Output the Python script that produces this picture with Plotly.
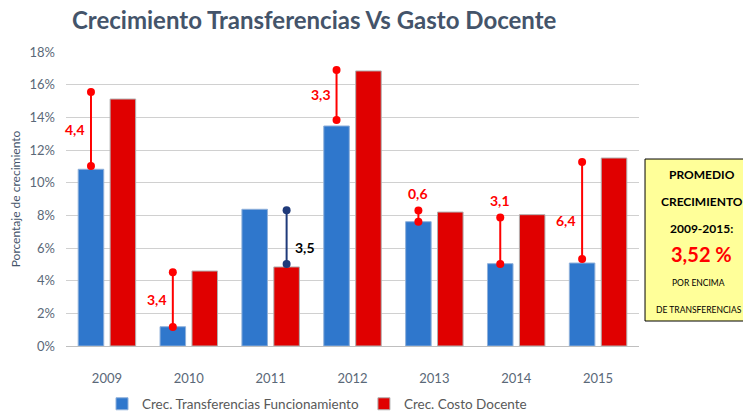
import plotly.graph_objects as go

years = ['2009', '2010', '2011', '2012', '2013', '2014', '2015']
transferencias = [10.82, 1.18, 8.37, 13.47, 7.61, 5.04, 5.08]
costo_docente = [15.12, 4.59, 4.84, 16.84, 8.20, 8.04, 11.51]
diff_low = [11.02, 1.16, 5.02, 13.84, 7.61, 5.02, 5.33]
diff_high = [15.55, 4.51, 8.31, 16.90, 8.29, 7.86, 11.27]
diff_labels = ['4,4', '3,4', '3,5', '3,3', '0,6', '3,1', '6,4']
y_ticks = [0, 2, 4, 6, 8, 10, 12, 14, 16, 18]
y_ticktext = ['0%', '2%', '4%', '6%', '8%', '10%', '12%', '14%', '16%', '18%']
promedio_lines = ['PROMEDIO', 'CRECIMIENTO', '2009-2015:']
promedio_valor = '3,52 %'
promedio_sub = ['POR ENCIMA', 'DE TRANSFERENCIAS']

FONT = 'Lato'
BLUE = '#2F77CC'
RED = '#E00000'
W, H = 743, 404  # page has an 8px body margin

fig = go.Figure()
xs = list(range(len(years)))
fig.add_trace(go.Bar(x=xs, y=transferencias, name='Crec. Transferencias Funcionamiento',
                     marker=dict(color=BLUE, line=dict(color='#8FB0DA', width=1))))
fig.add_trace(go.Bar(x=xs, y=costo_docente, name='Crec. Costo Docente',
                     marker=dict(color=RED, line=dict(color='#B0B0B0', width=1))))

bargap = 0.22
slot = (1 - bargap) / 2
# which bar the difference line sits on: 't' = transferencias, 'c' = costo docente
line_on = ['t', 't', 'c', 't', 't', 't', 't']
placement = ['left', 'left', 'right', 'left', 'top', 'top', 'left']
yoff = [0, 0, -10, 0, 0, 0, -10]

annotations = []
for i in range(len(years)):
    lx = i - slot / 2 if line_on[i] == 't' else i + slot / 2
    col = '#1F3A7A' if line_on[i] == 'c' else '#FF0000'
    fig.add_trace(go.Scatter(x=[lx, lx], y=[diff_low[i], diff_high[i]], mode='lines+markers',
                             line=dict(color=col, width=2), marker=dict(color=col, size=8),
                             showlegend=False, hoverinfo='skip'))
    tcol = '#000000' if line_on[i] == 'c' else '#FF0000'
    mid = (diff_low[i] + diff_high[i]) / 2
    a = dict(x=lx, y=mid, xref='x', yref='y', text='<b>%s</b>' % diff_labels[i], showarrow=False,
             font=dict(family=FONT, size=14, color=tcol), yshift=yoff[i])
    if placement[i] == 'left':
        a.update(xanchor='right', xshift=-4, yanchor='middle')
    elif placement[i] == 'right':
        a.update(xanchor='left', xshift=6, yanchor='middle')
    else:
        a.update(y=diff_high[i], xanchor='center', yanchor='bottom', yshift=7)
    annotations.append(a)

# yellow box
bx = 1.1095
box_y = [0.582, 0.491, 0.398]
for t, yy in zip(promedio_lines, box_y):
    annotations.append(dict(x=bx, y=yy, xref='paper', yref='paper', text='<b>%s</b>' % t,
                            showarrow=False, font=dict(family=FONT, size=12, color='#000000'),
                            xanchor='center', yanchor='middle'))
annotations.append(dict(x=bx, y=0.313, xref='paper', yref='paper', text='<b>%s</b>' % promedio_valor,
                        showarrow=False, font=dict(family=FONT, size=20, color='#FF0000'),
                        xanchor='center', yanchor='middle'))
for t, yy in zip(promedio_sub, [0.214, 0.122]):
    annotations.append(dict(x=bx - 0.005, y=yy, xref='paper', yref='paper', text=t,
                            showarrow=False, font=dict(family=FONT, size=8.5, color='#000000'),
                            xanchor='center', yanchor='middle'))

fig.update_layout(
    width=W, height=H,
    margin=dict(l=58, r=112, t=44, b=66, autoexpand=False),
    paper_bgcolor='white', plot_bgcolor='white',
    barmode='group', bargap=bargap, bargroupgap=0.2,
    title=dict(text='<b>Crecimiento Transferencias Vs Gasto Docente</b>',
               x=64 / W, xanchor='left', xref='container',
               y=1 - 4 / H, yanchor='top', yref='container', pad=dict(t=0, b=0),
               font=dict(family=FONT, size=24, color='#44546A')),
    xaxis=dict(tickmode='array', tickvals=xs, ticktext=years, range=[-0.5, len(years) - 0.5],
               showgrid=False, zeroline=False, showline=True, linecolor='#BFBFBF', linewidth=1,
               ticks='', ticklabelstandoff=20, automargin=False,
               tickfont=dict(family=FONT, size=13, color='#5A6878')),
    yaxis=dict(range=[0, 18], tickmode='array', tickvals=y_ticks, ticktext=y_ticktext,
               showgrid=True, automargin=False,
               gridcolor='#D0D0D0', gridwidth=1, zeroline=False, ticks='',
               ticklabelstandoff=10,
               tickfont=dict(family=FONT, size=13, color='#5A6878'),
               title=dict(text='Porcentaje de crecimiento', standoff=10,
                          font=dict(family=FONT, size=12, color='#44546A'))),
    legend=dict(orientation='h', x=94 / W, xref='container', xanchor='left',
                y=1 - 396 / H, yref='container', yanchor='middle',
                font=dict(family=FONT, size=13.5, color='#595959'), itemwidth=30,
                traceorder='normal'),
    annotations=annotations,
    shapes=[dict(type='rect', xref='paper', yref='paper', x0=1.0105, x1=1.25, y0=0.085, y1=0.636,
                 fillcolor='#FFFF99', line=dict(color='#000000', width=1), layer='below')],
    showlegend=True,
)
fig.write_html('out.html')
